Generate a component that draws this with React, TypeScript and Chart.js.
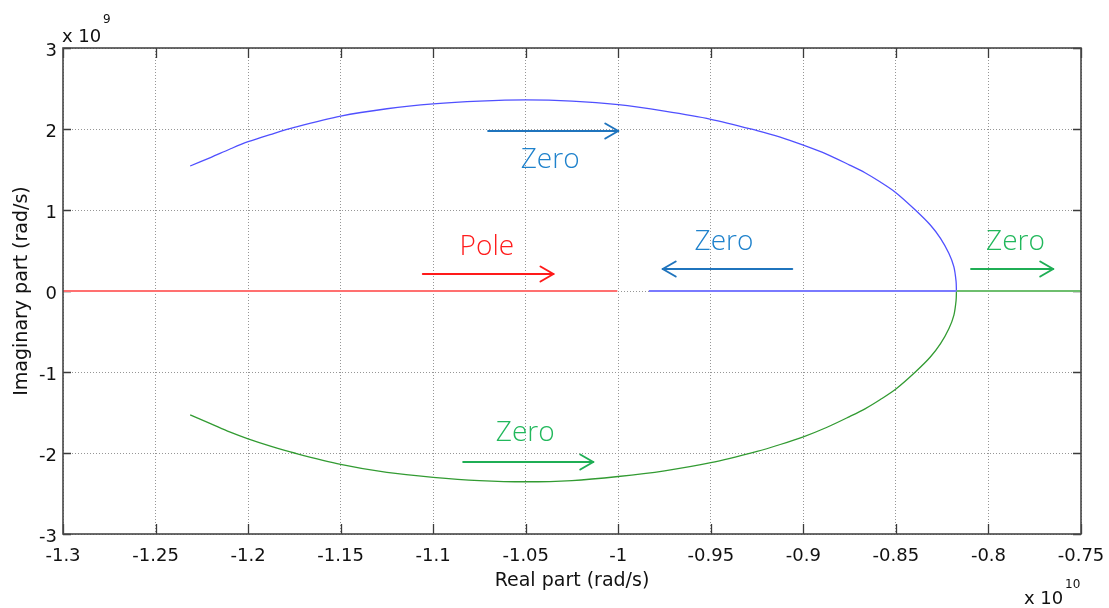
import React, { useEffect, useRef } from 'react';
import { Chart, registerables } from 'chart.js';

Chart.register(...registerables);

// Axis ticks (x in units of 1e10 rad/s, y in units of 1e9 rad/s)
const xTickValues = [-1.3, -1.25, -1.2, -1.15, -1.1, -1.05, -1.0, -0.95, -0.9, -0.85, -0.8, -0.75];
const xTickLabels = ['-1.3', '-1.25', '-1.2', '-1.15', '-1.1', '-1.05', '-1', '-0.95', '-0.9', '-0.85', '-0.8', '-0.75'];
const yTickValues = [-3, -2, -1, 0, 1, 2, 3];
const yTickLabels = ['-3', '-2', '-1', '0', '1', '2', '3'];

// Upper (blue) zero branch
const upperArcX = [-1.2313, -1.22, -1.21, -1.2, -1.1875, -1.175, -1.15, -1.125, -1.1, -1.075, -1.05, -1.025, -1.0, -0.975, -0.95, -0.925, -0.9125, -0.9, -0.8875, -0.875, -0.8667, -0.8584, -0.85, -0.8395, -0.8314, -0.8259, -0.8214, -0.8187, -0.8175, -0.8173];
const upperArcY = [1.543, 1.65, 1.75, 1.843, 1.935, 2.02, 2.16, 2.25, 2.31, 2.345, 2.36, 2.345, 2.30, 2.22, 2.12, 1.98, 1.90, 1.80, 1.69, 1.555, 1.46, 1.345, 1.214, 1.0, 0.815, 0.65, 0.465, 0.30, 0.12, 0.0];

// Lower (green) zero branch
const lowerArcX = [-1.2313, -1.22, -1.21, -1.2, -1.1875, -1.175, -1.15, -1.125, -1.1, -1.075, -1.05, -1.025, -1.0, -0.975, -0.95, -0.925, -0.9125, -0.9, -0.8875, -0.875, -0.8667, -0.8584, -0.85, -0.8395, -0.8314, -0.8259, -0.8214, -0.8187, -0.8175, -0.8173];
const lowerArcY = [-1.53, -1.64, -1.74, -1.825, -1.918, -2.0, -2.14, -2.24, -2.30, -2.34, -2.355, -2.34, -2.29, -2.22, -2.12, -1.98, -1.895, -1.80, -1.685, -1.55, -1.455, -1.34, -1.21, -1.0, -0.815, -0.65, -0.465, -0.30, -0.12, 0.0];

// Real-axis segments
const poleLineX = [-1.3, -1.0005];
const poleLineY = [0, 0];
const blueRealX = [-0.9835, -0.8173];
const blueRealY = [0, 0];
const greenRealX = [-0.8173, -0.75];
const greenRealY = [0, 0];

// Annotation arrows (data coordinates)
const arrowFromX = [-1.0703, -1.1056, -0.906, -0.8094, -1.0838];
const arrowToX = [-1.0, -1.035, -0.976, -0.765, -1.0135];
const arrowY = [1.975, 0.21, 0.268, 0.268, -2.107];
const arrowKind = ['blue', 'red', 'blue', 'green', 'green'];

// Annotation labels (data coordinates)
const labelText = ['Zero', 'Pole', 'Zero', 'Zero', 'Zero'];
const labelX = [-1.0368, -1.071, -0.9429, -0.7854, -1.0503];
const labelY = [1.63, 0.556, 0.623, 0.623, -1.747];
const labelKind = ['blue', 'red', 'blue', 'green', 'green'];

const arrowColors: Record<string, string> = { blue: '#1f74bd', red: '#ff1a1a', green: '#1fae55' };
const textColors: Record<string, string> = { blue: '#1f82cc', red: '#ff1c1c', green: '#22b85c' };

const toPts = (xs: number[], ys: number[]) => xs.map((x, i) => ({ x, y: ys[i] }));

const decorPlugin = {
  id: 'decor',
  beforeDatasetsDraw(chart: any) {
    const ctx = chart.ctx;
    const a = chart.chartArea;
    const xs = chart.scales.x;
    const ys = chart.scales.y;
    ctx.save();
    // inward ticks on all four sides
    ctx.strokeStyle = '#3a3a3a';
    ctx.lineWidth = 1.3;
    ctx.beginPath();
    for (const v of xTickValues) {
      const px = Math.round(xs.getPixelForValue(v)) + 0.5;
      ctx.moveTo(px, a.bottom);
      ctx.lineTo(px, a.bottom - 10);
      ctx.moveTo(px, a.top);
      ctx.lineTo(px, a.top + 10);
    }
    for (const v of yTickValues) {
      const py = Math.round(ys.getPixelForValue(v)) + 0.5;
      ctx.moveTo(a.left, py);
      ctx.lineTo(a.left + 8, py);
      ctx.moveTo(a.right, py);
      ctx.lineTo(a.right - 8, py);
    }
    ctx.stroke();
    ctx.restore();
  },
  afterDatasetsDraw(chart: any) {
    const ctx = chart.ctx;
    const xs = chart.scales.x;
    const ys = chart.scales.y;
    ctx.save();
    // arrows
    for (let i = 0; i < arrowFromX.length; i++) {
      const x1 = xs.getPixelForValue(arrowFromX[i]);
      const x2 = xs.getPixelForValue(arrowToX[i]);
      const y = Math.round(ys.getPixelForValue(arrowY[i]));
      const dir = Math.sign(x2 - x1);
      ctx.strokeStyle = arrowColors[arrowKind[i]];
      ctx.lineWidth = 2;
      ctx.lineCap = 'round';
      ctx.lineJoin = 'round';
      ctx.beginPath();
      ctx.moveTo(x1, y);
      ctx.lineTo(x2, y);
      ctx.stroke();
      ctx.beginPath();
      ctx.moveTo(x2 - dir * 13, y - 7.5);
      ctx.lineTo(x2, y);
      ctx.lineTo(x2 - dir * 13, y + 7.5);
      ctx.stroke();
    }
    // labels
    ctx.font = '300 28px "Open Sans"';
    ctx.textAlign = 'center';
    ctx.textBaseline = 'middle';
    for (let i = 0; i < labelText.length; i++) {
      ctx.fillStyle = textColors[labelKind[i]];
      ctx.fillText(labelText[i], xs.getPixelForValue(labelX[i]), ys.getPixelForValue(labelY[i]) + 1);
    }
    ctx.restore();
  },
  afterDraw(chart: any) {
    const ctx = chart.ctx;
    const a = chart.chartArea;
    ctx.save();
    // box
    ctx.strokeStyle = '#474747';
    ctx.lineWidth = 1.6;
    ctx.strokeRect(a.left, a.top, a.right - a.left, a.bottom - a.top);

    // axis titles
    ctx.fillStyle = '#111';
    ctx.font = '19px "DejaVu Sans"';
    ctx.textAlign = 'center';
    ctx.textBaseline = 'middle';
    ctx.fillText('Real part (rad/s)', (a.left + a.right) / 2, 581);
    ctx.save();
    ctx.translate(22, (a.top + a.bottom) / 2);
    ctx.rotate(-Math.PI / 2);
    ctx.fillText('Imaginary part (rad/s)', 0, 0);
    ctx.restore();

    // exponent labels
    ctx.font = '18px "DejaVu Sans"';
    ctx.textAlign = 'left';
    ctx.textBaseline = 'alphabetic';
    ctx.fillText('x 10', 62, 42);
    ctx.font = '12px "DejaVu Sans"';
    ctx.fillText('9', 103, 23);
    ctx.font = '18px "DejaVu Sans"';
    ctx.fillText('x 10', 1024, 604);
    ctx.font = '12px "DejaVu Sans"';
    ctx.fillText('10', 1065, 588);
    ctx.restore();
  },
};

export default function App() {
  const ref = useRef<HTMLCanvasElement | null>(null);

  useEffect(() => {
    document.body.style.margin = '0';
    const canvas = ref.current;
    if (!canvas) return;
    Chart.defaults.font.family = '"DejaVu Sans"';
    const chart = new Chart(canvas, {
      type: 'line',
      data: {
        datasets: [
          {
            label: 'Pole locus',
            data: toPts(poleLineX, poleLineY),
            borderColor: 'rgb(255,112,112)',
            borderWidth: 2.2,
            pointRadius: 0,
          },
          {
            label: 'Zero real (blue)',
            data: toPts(blueRealX, blueRealY),
            borderColor: 'rgb(122,122,255)',
            borderWidth: 2.2,
            pointRadius: 0,
          },
          {
            label: 'Zero real (green)',
            data: toPts(greenRealX, greenRealY),
            borderColor: 'rgb(110,190,110)',
            borderWidth: 2.2,
            pointRadius: 0,
          },
          {
            label: 'Zero upper',
            data: toPts(upperArcX, upperArcY),
            borderColor: 'rgb(80,80,255)',
            borderWidth: 1.3,
            pointRadius: 0,
            tension: 0.3,
          },
          {
            label: 'Zero lower',
            data: toPts(lowerArcX, lowerArcY),
            borderColor: 'rgb(50,155,50)',
            borderWidth: 1.3,
            pointRadius: 0,
            tension: 0.3,
          },
        ],
      },
      options: {
        animation: false,
        responsive: false,
        devicePixelRatio: 1,
        layout: { padding: { top: 48, right: 28, left: 0, bottom: 0 } },
        plugins: { legend: { display: false }, tooltip: { enabled: false } },
        scales: {
          x: {
            type: 'linear',
            min: -1.3,
            max: -0.75,
            afterBuildTicks: (scale: any) => {
              scale.ticks = xTickValues.map((v) => ({ value: v }));
            },
            afterFit: (scale: any) => {
              scale.height = 74;
              scale.paddingLeft = 0;
              scale.paddingRight = 0;
            },
            ticks: {
              autoSkip: false,
              maxRotation: 0,
              padding: 12,
              color: '#111',
              font: { size: 18, family: '"DejaVu Sans"' },
              callback: (_v: any, i: number) => xTickLabels[i],
            },
            grid: {
              color: 'rgb(150,150,150)',
              lineWidth: 1,
              drawTicks: false,
            },
            border: { display: false, dash: [1, 2] },
          },
          y: {
            type: 'linear',
            min: -3,
            max: 3,
            afterBuildTicks: (scale: any) => {
              scale.ticks = yTickValues.map((v) => ({ value: v }));
            },
            afterFit: (scale: any) => {
              scale.width = 63;
              scale.paddingTop = 0;
              scale.paddingBottom = 0;
            },
            ticks: {
              autoSkip: false,
              padding: 6,
              labelOffset: 3,
              color: '#111',
              font: { size: 18, family: '"DejaVu Sans"' },
              callback: (_v: any, i: number) => yTickLabels[i],
            },
            grid: {
              color: 'rgb(150,150,150)',
              lineWidth: 1,
              drawTicks: false,
            },
            border: { display: false, dash: [1, 2] },
          },
        },
      },
      plugins: [decorPlugin],
    } as any);
    return () => chart.destroy();
  }, []);

  return <canvas ref={ref} width={1109} height={608} style={{ display: 'block' }} />;
}
